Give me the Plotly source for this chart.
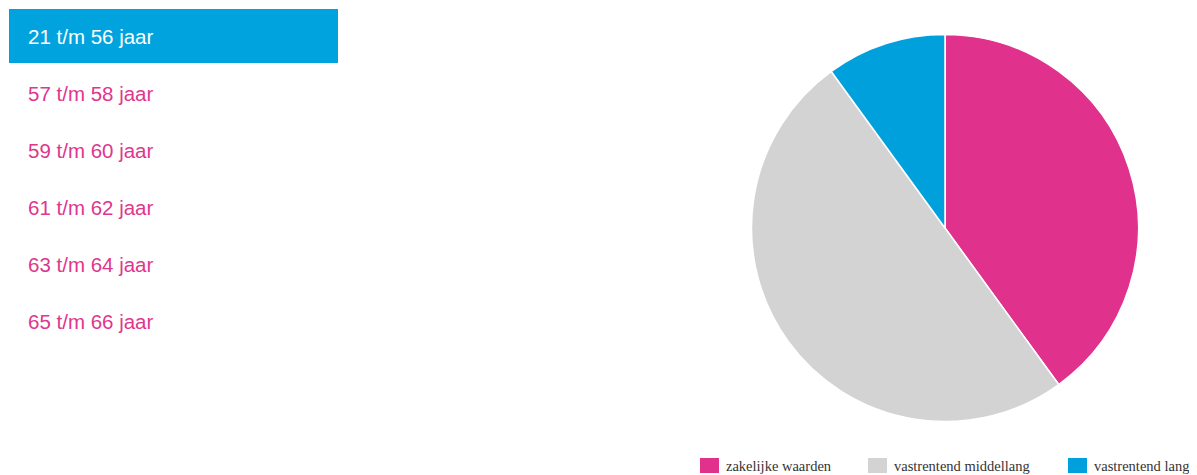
import plotly.graph_objects as go

# Data
categories = ["zakelijke waarden", "vastrentend middellang", "vastrentend lang"]
values = [40, 50, 10]
colors = ["#E0318C", "#D3D3D3", "#00A0DC"]

age_groups = ["21 t/m 56 jaar", "57 t/m 58 jaar", "59 t/m 60 jaar",
              "61 t/m 62 jaar", "63 t/m 64 jaar", "65 t/m 66 jaar"]
active_index = 0

# page has 8px body margin; work in figure pixel coordinates
OFF = 8
W, H = 1197 - OFF, 475 - OFF


def px(x):
    return (x - OFF) / W


def py(y):
    return 1 - (y - OFF) / H


fig = go.Figure()
R = 193.5
CX, CY = 945, 228
fig.add_trace(go.Pie(
    labels=categories,
    values=values,
    marker=dict(colors=colors, line=dict(color="#FFFFFF", width=1.5)),
    sort=False,
    direction="clockwise",
    rotation=0,
    textinfo="none",
    hoverinfo="label+percent",
    showlegend=False,
    domain=dict(x=[px(CX - R), px(CX + R)],
                y=[py(CY + R), py(CY - R)]),
))

shapes = []
annotations = []
for i, g in enumerate(age_groups):
    yc = 36 + i * 57
    if i == active_index:
        shapes.append(dict(type="rect", xref="paper", yref="paper",
                           x0=px(9), x1=px(338), y0=py(63), y1=py(9),
                           fillcolor="#00A3DD", line=dict(width=0), layer="below"))
        color = "#FFFFFF"
    else:
        color = "#E0368E"
    annotations.append(dict(text=g, xref="paper", yref="paper",
                            x=px(26), y=py(yc), xanchor="left", yanchor="middle",
                            showarrow=False,
                            font=dict(family="Liberation Sans, Arial", size=20.5, color=color)))

# legend (drawn manually to match the reference spacing)
legend_x = [700, 868, 1068]
for lx, name, col in zip(legend_x, categories, colors):
    shapes.append(dict(type="rect", xref="paper", yref="paper",
                       x0=px(lx), x1=px(lx + 19), y0=py(473), y1=py(458),
                       fillcolor=col, line=dict(width=0)))
    annotations.append(dict(text=name, xref="paper", yref="paper",
                            x=px(lx + 24), y=py(466), xanchor="left", yanchor="middle",
                            showarrow=False,
                            font=dict(family="Liberation Serif, Times New Roman, serif",
                                      size=14.5, color="#333333")))

fig.update_layout(
    width=W, height=H,
    margin=dict(l=0, r=0, t=0, b=0),
    paper_bgcolor="#FFFFFF",
    plot_bgcolor="#FFFFFF",
    shapes=shapes,
    annotations=annotations,
    showlegend=False,
)

fig.write_html("out.html")
